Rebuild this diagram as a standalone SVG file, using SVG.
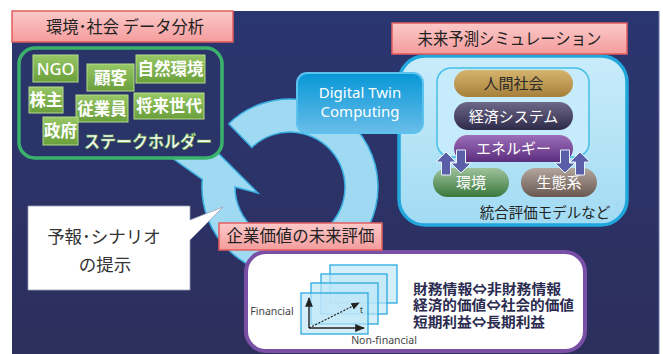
<svg xmlns="http://www.w3.org/2000/svg" width="663" height="354" viewBox="0 0 663 354">
<defs>
<linearGradient id="bg" x1="0" y1="0" x2="0" y2="1"><stop offset="0" stop-color="#2a3671"/><stop offset="1" stop-color="#2d2f5c"/></linearGradient>
<linearGradient id="pink" x1="0" y1="0" x2="0" y2="1"><stop offset="0" stop-color="#fcc9c9"/><stop offset="1" stop-color="#f49c9c"/></linearGradient>
<linearGradient id="tag" x1="0" y1="0" x2="0" y2="1"><stop offset="0" stop-color="#97c766"/><stop offset="1" stop-color="#6a9f3c"/></linearGradient>
<linearGradient id="dtc" x1="0" y1="0" x2="0" y2="1"><stop offset="0" stop-color="#0697d6"/><stop offset="1" stop-color="#69bde9"/></linearGradient>
<linearGradient id="lb" x1="0" y1="0" x2="0" y2="1"><stop offset="0" stop-color="#c9ecfa"/><stop offset="1" stop-color="#a2dbf3"/></linearGradient>
<linearGradient id="gold" x1="0" y1="0" x2="0" y2="1"><stop offset="0" stop-color="#d6b46e"/><stop offset="1" stop-color="#a6803a"/></linearGradient>
<linearGradient id="econ" x1="0" y1="0" x2="0" y2="1"><stop offset="0" stop-color="#6e6888"/><stop offset="1" stop-color="#2e2a49"/></linearGradient>
<linearGradient id="ener" x1="0" y1="0" x2="0" y2="1"><stop offset="0" stop-color="#9d6fba"/><stop offset="1" stop-color="#5b2d7d"/></linearGradient>
<linearGradient id="env" x1="0" y1="0" x2="0" y2="1"><stop offset="0" stop-color="#9fc29c"/><stop offset="1" stop-color="#3a783d"/></linearGradient>
<linearGradient id="eco" x1="0" y1="0" x2="0" y2="1"><stop offset="0" stop-color="#b4a59d"/><stop offset="1" stop-color="#685850"/></linearGradient>
<path id="upArr" d="M0,0 L10,10 L4.5,10 L4.5,23 L-4.5,23 L-4.5,10 L-10,10 Z"/>
<marker id="ah" viewBox="0 0 10 10" refX="9" refY="5" markerWidth="7" markerHeight="7" orient="auto-start-reverse"><path d="M0,1 L10,5 L0,9 Z" fill="#222"/></marker>
</defs>
<style>
.jp{font-family:"Noto Sans CJK JP","Noto Sans",sans-serif;}
.lat{font-family:"Noto Sans","Open Sans",sans-serif;}
.pinkbox{fill:url(#pink);stroke:#e25d5d;stroke-width:1.5;}
.hdr{font-size:16.5px;fill:#222;text-anchor:middle;}
.tag{fill:url(#tag);stroke:#b4dc8c;stroke-width:1;}
.tagt{font-size:16.5px;fill:#fff;text-anchor:middle;font-weight:bold;}
.pillt{font-size:15px;text-anchor:middle;fill:#fff;}
.arr{fill:#5b5ea9;stroke:#e6f4fb;stroke-width:1;}
.stack{fill:#bfe6f8;fill-opacity:0.65;stroke:#2aa9e1;stroke-width:1.3;}
.rt{font-size:14px;fill:#2b2b4f;font-weight:bold;}
</style>
<rect x="0" y="0" width="663" height="354" fill="#ffffff"/>
<rect x="12" y="11" width="647" height="343" fill="url(#bg)"/>
<line x1="659" y1="11" x2="659" y2="354" stroke="#6e78a8" stroke-width="1"/>

<g id="connectors">
<path id="cycle-arrow" d="M228.8,123.7 A88,88 0 1 1 202.3,179.3 L172,158 L200,135 L258,193 L235,187 A55,55 0 1 0 251.8,147.5 Z" fill="#9fd9f2" stroke="#3aafe2" stroke-width="1.5"/>
</g>

<g id="header-data">
<rect class="pinkbox" x="12" y="11" width="221" height="31"/>
<text class="jp hdr" x="125" y="33" textLength="158" lengthAdjust="spacingAndGlyphs">環境･社会 データ分析</text>
</g>

<g id="stakeholders">
<rect x="19" y="48" width="203" height="110" rx="16" fill="#2b3469" stroke="#3bb26c" stroke-width="3.5"/>
<g id="tag-ngo"><rect class="tag" x="33" y="55" width="45" height="27"/><text class="lat tagt" x="55.5" y="75" style="font-weight:500">NGO</text></g>
<g id="tag-customer"><rect class="tag" x="87" y="64" width="47" height="27"/><text class="jp tagt" x="110.5" y="84">顧客</text></g>
<g id="tag-nature"><rect class="tag" x="136" y="55" width="69" height="28"/><text class="jp tagt" x="170.5" y="75">自然環境</text></g>
<g id="tag-shareholder"><rect class="tag" x="29" y="87" width="34" height="26"/><text class="jp tagt" x="46" y="106">株主</text></g>
<g id="tag-employee"><rect class="tag" x="76" y="95" width="52" height="27"/><text class="jp tagt" x="102" y="115">従業員</text></g>
<g id="tag-future"><rect class="tag" x="134" y="93" width="70" height="26"/><text class="jp tagt" x="169" y="112">将来世代</text></g>
<g id="tag-gov"><rect class="tag" x="43" y="117" width="35" height="28"/><text class="jp tagt" x="60.5" y="137">政府</text></g>
<text class="jp" x="148" y="148" font-size="16.5" font-weight="bold" fill="#fff" stroke="#5fa53a" stroke-width="0.6" text-anchor="middle" textLength="128" lengthAdjust="spacingAndGlyphs">ステークホルダー</text>
</g>

<g id="callout">
<path d="M28,206 H190 V220 L223,207 L190,240 V290 H28 Z" fill="#ffffff" stroke="#9aa0b8" stroke-width="0.8"/>
<text class="jp" x="104" y="243" font-size="17.5" fill="#333" text-anchor="middle">予報･シナリオ</text>
<text class="jp" x="105" y="271" font-size="17.5" fill="#333" text-anchor="middle">の提示</text>
</g>

<g id="simulation">
<rect x="399" y="56" width="228" height="169" rx="26" fill="url(#lb)" stroke="#22a7dd" stroke-width="3.5"/>
<rect x="437" y="68" width="152" height="89" rx="14" fill="#c6ebfa" stroke="#45bfe8" stroke-width="1.5"/>
<g id="pill-society"><rect x="454" y="70" width="119" height="27" rx="13.5" fill="url(#gold)"/><text class="jp pillt" x="513.5" y="89" style="fill:#2a2a2a">人間社会</text></g>
<g id="pill-economy"><rect x="454" y="102" width="119" height="28" rx="14" fill="url(#econ)"/><text class="jp pillt" x="513.5" y="121.5">経済システム</text></g>
<g id="pill-energy"><rect x="454" y="135" width="119" height="27" rx="13.5" fill="url(#ener)"/><text class="jp pillt" x="513.5" y="154">エネルギー</text></g>
<g id="pill-env"><rect x="433" y="168" width="76" height="29" rx="14.5" fill="url(#env)"/><text class="jp pillt" x="471" y="188">環境</text></g>
<g id="pill-eco"><rect x="521" y="168" width="76" height="29" rx="14.5" fill="url(#eco)"/><text class="jp pillt" x="559" y="188">生態系</text></g>
<use href="#upArr" class="arr" transform="translate(446,152)"/>
<use href="#upArr" class="arr" transform="translate(461,173) scale(1,-1)"/>
<use href="#upArr" class="arr" transform="translate(565,173) scale(1,-1)"/>
<use href="#upArr" class="arr" transform="translate(580,152)"/>
<text class="jp" x="545" y="218" font-size="14.5" fill="#222" text-anchor="middle">統合評価モデルなど</text>
</g>

<g id="header-sim">
<rect class="pinkbox" x="392" y="23" width="235" height="31"/>
<text class="jp hdr" x="509.5" y="45" textLength="184" lengthAdjust="spacingAndGlyphs">未来予測シミュレーション</text>
</g>

<g id="dtc">
<rect x="297" y="73" width="126" height="60" rx="10" fill="url(#dtc)" stroke="#5bc2ee" stroke-width="2"/>
<text class="lat" x="360" y="98" font-size="15" fill="#fff" text-anchor="middle">Digital Twin</text>
<text class="lat" x="360" y="116.5" font-size="15" fill="#fff" text-anchor="middle">Computing</text>
</g>

<g id="valuation">
<rect x="246" y="252" width="339" height="99" rx="20" fill="#ffffff" stroke="#7a4fa6" stroke-width="4"/>
<rect class="stack" x="330" y="265" width="67" height="38"/>
<rect class="stack" x="321" y="274" width="66" height="40"/>
<rect class="stack" x="311" y="283" width="67" height="41"/>
<rect class="stack" x="301" y="293" width="67" height="41"/>
<line x1="309" y1="328" x2="309" y2="298" stroke="#222" stroke-width="1.4" marker-end="url(#ah)"/>
<line x1="309" y1="328" x2="364" y2="328" stroke="#222" stroke-width="1.4" marker-end="url(#ah)"/>
<line x1="309" y1="328" x2="359" y2="303" stroke="#222" stroke-width="1.2" stroke-dasharray="2,1.5" marker-end="url(#ah)"/>
<text class="lat" x="360" y="313" font-size="8" fill="#333">t</text>
<text class="lat" x="272" y="315" font-size="10.5" fill="#444" text-anchor="middle">Financial</text>
<text class="lat" x="384" y="344" font-size="10.5" fill="#444" text-anchor="middle">Non-financial</text>
<text class="jp rt" x="413" y="293.5" textLength="148" lengthAdjust="spacingAndGlyphs">財務情報⇔非財務情報</text>
<text class="jp rt" x="413" y="310" textLength="161" lengthAdjust="spacingAndGlyphs">経済的価値⇔社会的価値</text>
<text class="jp rt" x="413" y="326.5" textLength="132" lengthAdjust="spacingAndGlyphs">短期利益⇔長期利益</text>
</g>

<g id="header-value">
<rect class="pinkbox" x="219" y="223" width="163" height="27"/>
<text class="jp hdr" x="300.5" y="242" textLength="148" lengthAdjust="spacingAndGlyphs">企業価値の未来評価</text>
</g>
</svg>
